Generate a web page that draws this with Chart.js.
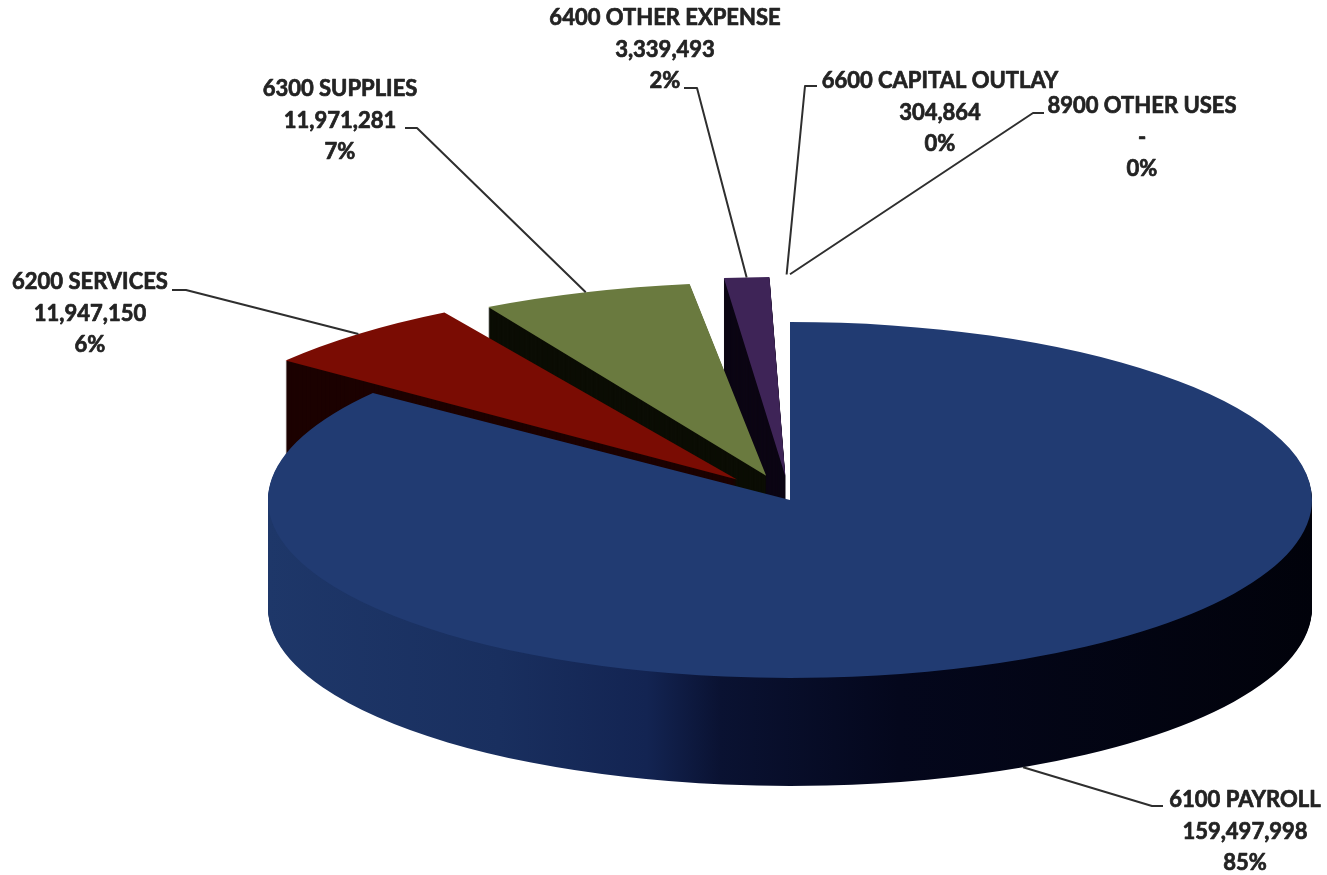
<!DOCTYPE html>
<html><head><meta charset="utf-8">
<script src="https://cdn.jsdelivr.net/npm/chart.js@4.4.0/dist/chart.umd.min.js"></script>
<style>html,body{margin:0;padding:0;background:#fff;} #wrap{width:1327px;height:875px;position:relative;}</style>
</head><body><div id="wrap"><canvas id="c" width="1327" height="875"></canvas></div>
<script>
// ---- data ----
const categories = ['6100 PAYROLL','6200 SERVICES','6300 SUPPLIES','6400 OTHER EXPENSE','6600 CAPITAL OUTLAY','8900 OTHER USES'];
const amounts = [159497998, 11947150, 11971281, 3339493, 304864, 0];
const percentLabels = ['85%','6%','7%','2%','0%','0%'];

// ---- style / layout ----
const topColors = ['#213b72','#7a0c03','#6a7a3f','#3e2457','#5b8bc8','#8064a2'];
const wallColors = ['#1c3366','#1c0200','#0b0d04','#0c0614','#0f1a2c','#0c0614'];
const explodeOffsets = [0, 320, 300, 280, 280, 280];
const CX = 790, CY = 500, RX = 522, RY = 178, DEPTH = 108;
const K = RY / RX;
const labelLayout = [
  {x:1245, y:800, lead:[[1163,806],[1152,806]]},
  {x:90,   y:282, lead:[[172,290],[186,290]]},
  {x:340,  y:89,  lead:[[405,128],[417,128]]},
  {x:665,  y:18,  lead:[[684,88],[697,88]]},
  {x:940,  y:81,  lead:[[817,86],[805,86]]},
  {x:1142, y:106, lead:[[1044,113],[1033,113]]}
];

function squash(ctx){ ctx.translate(0, CY*(1-K)); ctx.scale(1, K); }

function wallFill(ctx, i){
  if (i === 0) {
    const g = ctx.createLinearGradient(268, 0, 1320, 0);
    g.addColorStop(0.00, '#1e3769');
    g.addColorStop(0.22, '#192f5f');
    g.addColorStop(0.36, '#132452');
    g.addColorStop(0.43, '#0a1232');
    g.addColorStop(0.60, '#04071c');
    g.addColorStop(1.00, '#01020a');
    return g;
  }
  return wallColors[i];
}

function anchorPoint(arc, i){
  const p = arc.getProps(['x','y','startAngle','endAngle','outerRadius','circumference'], true);
  const off = (arc.options.offset || 0) / 4;
  const mid = (p.startAngle + p.endAngle) / 2;
  const fix = 1 - Math.sin(Math.min(Math.PI, p.circumference || 0));
  const r = p.outerRadius + off * fix;
  const ux = p.x + Math.cos(mid) * (off + r);
  const uy = p.y + Math.sin(mid) * (off + r);
  return [ux, CY + (uy - CY) * K + (i === 0 ? DEPTH : 0)];
}

const pie3d = {
  id: 'pie3d',
  beforeDatasetsDraw(chart){
    const ctx = chart.ctx;
    const arcs = chart.getDatasetMeta(0).data;
    const saved = arcs.map(a => a.options.backgroundColor);
    arcs.forEach((a, i) => { a.options.backgroundColor = wallFill(ctx, i); });
    for (let d = DEPTH; d >= 1; d--) {
      ctx.save();
      ctx.translate(0, d);
      squash(ctx);
      for (let i = arcs.length - 1; i >= 0; i--) arcs[i].draw(ctx);
      ctx.restore();
    }
    arcs.forEach((a, i) => { a.options.backgroundColor = saved[i]; });
    ctx.save();
    squash(ctx);
  },
  afterDatasetsDraw(chart){
    const ctx = chart.ctx;
    ctx.restore();
    const arcs = chart.getDatasetMeta(0).data;
    ctx.save();
    ctx.strokeStyle = '#2e2e2e';
    ctx.lineWidth = 2;
    ctx.lineJoin = 'round';
    labelLayout.forEach((L, i) => {
      const a = anchorPoint(arcs[i], i);
      ctx.beginPath();
      ctx.moveTo(L.lead[0][0], L.lead[0][1]);
      ctx.lineTo(L.lead[1][0], L.lead[1][1]);
      ctx.lineTo(a[0], a[1]);
      ctx.stroke();
    });
    ctx.fillStyle = '#232323';
    ctx.strokeStyle = '#232323';
    ctx.lineWidth = 0.7;
    ctx.font = '700 22px Lato, "Open Sans", sans-serif';
    ctx.textAlign = 'center';
    ctx.textBaseline = 'middle';
    labelLayout.forEach((L, i) => {
      const v = amounts[i] === 0 ? '-' : amounts[i].toLocaleString('en-US');
      const lines = [categories[i], v, percentLabels[i]];
      lines.forEach((t, j) => {
        ctx.fillText(t, L.x, L.y + j * 31.5);
        ctx.strokeText(t, L.x, L.y + j * 31.5);
      });
    });
    ctx.restore();
  }
};

function build(){
  new Chart(document.getElementById('c'), {
    type: 'pie',
    data: {
      labels: categories,
      datasets: [{
        data: amounts,
        backgroundColor: topColors,
        borderWidth: 0,
        offset: explodeOffsets,
        hoverOffset: 0,
        clip: false,
        radius: RX
      }]
    },
    options: {
      responsive: false,
      animation: false,
      events: [],
      radius: RX,
      layout: { padding: { left: 253, right: 0, top: 125, bottom: 0 } },
      plugins: { legend: { display: false }, tooltip: { enabled: false } }
    },
    plugins: [pie3d]
  });
}
if (document.fonts && document.fonts.load) {
  document.fonts.load('700 22px Lato').then(build, build);
} else build();
</script>
</body></html>
